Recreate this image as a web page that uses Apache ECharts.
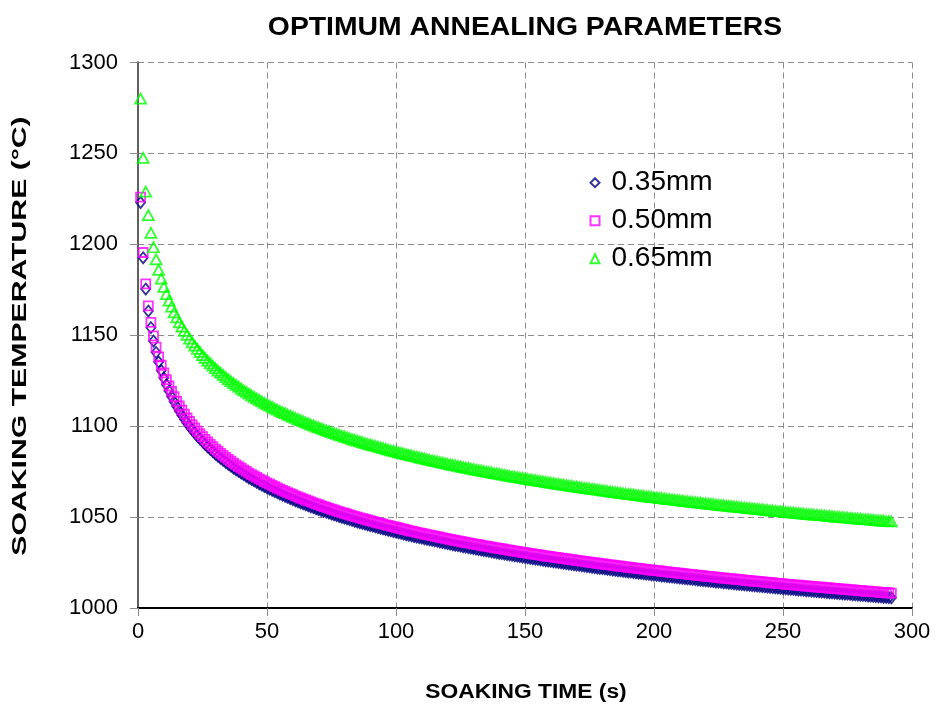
<!DOCTYPE html>
<html>
<head>
<meta charset="utf-8">
<script src="https://cdn.jsdelivr.net/npm/echarts@6/dist/echarts.min.js"></script>
<style>
  html, body { margin: 0; padding: 0; background: #ffffff; }
  #chart { width: 939px; height: 709px; }
</style>
</head>
<body>
<div id="chart"></div>
<script>
// Soaking time (s), one reading per second
const soakTime = [
  1,2,3,4,5,6,7,8,9,10,11,12,13,14,15,16,17,18,19,20,21,22,23,24,25,26,27,28,29,30,
  31,32,33,34,35,36,37,38,39,40,41,42,43,44,45,46,47,48,49,50,51,52,53,54,55,56,57,58,59,60,
  61,62,63,64,65,66,67,68,69,70,71,72,73,74,75,76,77,78,79,80,81,82,83,84,85,86,87,88,89,90,
  91,92,93,94,95,96,97,98,99,100,101,102,103,104,105,106,107,108,109,110,111,112,113,114,115,116,117,118,119,120,
  121,122,123,124,125,126,127,128,129,130,131,132,133,134,135,136,137,138,139,140,141,142,143,144,145,146,147,148,149,150,
  151,152,153,154,155,156,157,158,159,160,161,162,163,164,165,166,167,168,169,170,171,172,173,174,175,176,177,178,179,180,
  181,182,183,184,185,186,187,188,189,190,191,192,193,194,195,196,197,198,199,200,201,202,203,204,205,206,207,208,209,210,
  211,212,213,214,215,216,217,218,219,220,221,222,223,224,225,226,227,228,229,230,231,232,233,234,235,236,237,238,239,240,
  241,242,243,244,245,246,247,248,249,250,251,252,253,254,255,256,257,258,259,260,261,262,263,264,265,266,267,268,269,270,
  271,272,273,274,275,276,277,278,279,280,281,282,283,284,285,286,287,288,289,290,291,292
];

// Soaking temperature (°C) for 0.35 mm strip
const temp035 = [
  1223.0,1192.6,1175.4,1163.3,1154.2,1146.8,1140.6,1135.3,1130.6,1126.5,
  1122.8,1119.4,1116.3,1113.4,1110.8,1108.3,1106.0,1103.8,1101.8,1099.8,
  1098.0,1096.3,1094.6,1093.0,1091.5,1090.0,1088.6,1087.3,1086.0,1084.7,
  1083.5,1082.3,1081.2,1080.1,1079.0,1078.0,1077.0,1076.0,1075.1,1074.2,
  1073.3,1072.4,1071.5,1070.7,1069.9,1069.1,1068.3,1067.6,1066.8,1066.1,
  1065.4,1064.7,1064.0,1063.4,1062.7,1062.1,1061.4,1060.8,1060.2,1059.6,
  1059.0,1058.4,1057.9,1057.3,1056.8,1056.2,1055.7,1055.2,1054.6,1054.1,
  1053.6,1053.2,1052.7,1052.2,1051.7,1051.2,1050.8,1050.3,1049.9,1049.4,
  1049.0,1048.6,1048.2,1047.7,1047.3,1046.9,1046.5,1046.1,1045.7,1045.3,
  1045.0,1044.6,1044.2,1043.8,1043.5,1043.1,1042.7,1042.4,1042.0,1041.7,
  1041.3,1041.0,1040.6,1040.3,1040.0,1039.7,1039.3,1039.0,1038.7,1038.4,
  1038.1,1037.8,1037.5,1037.2,1036.9,1036.6,1036.3,1036.0,1035.7,1035.4,
  1035.1,1034.8,1034.5,1034.3,1034.0,1033.7,1033.5,1033.2,1032.9,1032.7,
  1032.4,1032.1,1031.9,1031.6,1031.4,1031.1,1030.9,1030.6,1030.4,1030.1,
  1029.9,1029.7,1029.4,1029.2,1029.0,1028.7,1028.5,1028.3,1028.0,1027.8,
  1027.6,1027.3,1027.1,1026.9,1026.7,1026.5,1026.2,1026.0,1025.8,1025.6,
  1025.4,1025.2,1025.0,1024.8,1024.6,1024.4,1024.2,1024.0,1023.8,1023.6,
  1023.4,1023.2,1023.0,1022.8,1022.6,1022.4,1022.2,1022.0,1021.8,1021.7,
  1021.5,1021.3,1021.1,1020.9,1020.7,1020.5,1020.4,1020.2,1020.0,1019.8,
  1019.7,1019.5,1019.3,1019.1,1019.0,1018.8,1018.6,1018.5,1018.3,1018.1,
  1017.9,1017.8,1017.6,1017.5,1017.3,1017.1,1017.0,1016.8,1016.7,1016.5,
  1016.3,1016.2,1016.0,1015.9,1015.7,1015.6,1015.4,1015.2,1015.1,1014.9,
  1014.8,1014.6,1014.5,1014.3,1014.2,1014.1,1013.9,1013.8,1013.6,1013.5,
  1013.3,1013.2,1013.0,1012.9,1012.8,1012.6,1012.5,1012.3,1012.2,1012.1,
  1011.9,1011.8,1011.6,1011.5,1011.4,1011.2,1011.1,1011.0,1010.8,1010.7,
  1010.6,1010.4,1010.3,1010.2,1010.0,1009.9,1009.8,1009.7,1009.5,1009.4,
  1009.3,1009.2,1009.0,1008.9,1008.8,1008.7,1008.5,1008.4,1008.3,1008.2,
  1008.1,1007.9,1007.8,1007.7,1007.6,1007.5,1007.3,1007.2,1007.1,1007.0,
  1006.9,1006.8,1006.6,1006.5,1006.4,1006.3,1006.2,1006.1,1005.9,1005.8,
  1005.7,1005.6
];

// Soaking temperature (°C) for 0.50 mm strip
const temp050 = [
  1226.0,1195.5,1178.3,1166.2,1157.1,1149.7,1143.5,1138.1,1133.5,1129.3,
  1125.6,1122.2,1119.1,1116.2,1113.6,1111.1,1108.8,1106.6,1104.5,1102.6,
  1100.7,1099.0,1097.3,1095.7,1094.2,1092.7,1091.3,1090.0,1088.7,1087.4,
  1086.2,1085.0,1083.9,1082.8,1081.7,1080.7,1079.7,1078.7,1077.8,1076.9,
  1076.0,1075.1,1074.2,1073.4,1072.6,1071.8,1071.0,1070.3,1069.5,1068.8,
  1068.1,1067.4,1066.7,1066.0,1065.4,1064.7,1064.1,1063.5,1062.9,1062.3,
  1061.7,1061.1,1060.5,1060.0,1059.4,1058.9,1058.4,1057.8,1057.3,1056.8,
  1056.3,1055.8,1055.3,1054.8,1054.4,1053.9,1053.4,1053.0,1052.5,1052.1,
  1051.7,1051.2,1050.8,1050.4,1050.0,1049.6,1049.2,1048.8,1048.4,1048.0,
  1047.6,1047.2,1046.8,1046.5,1046.1,1045.7,1045.4,1045.0,1044.7,1044.3,
  1044.0,1043.6,1043.3,1043.0,1042.6,1042.3,1042.0,1041.6,1041.3,1041.0,
  1040.7,1040.4,1040.1,1039.8,1039.5,1039.2,1038.9,1038.6,1038.3,1038.0,
  1037.7,1037.4,1037.2,1036.9,1036.6,1036.3,1036.1,1035.8,1035.5,1035.3,
  1035.0,1034.8,1034.5,1034.2,1034.0,1033.7,1033.5,1033.2,1033.0,1032.8,
  1032.5,1032.3,1032.0,1031.8,1031.6,1031.3,1031.1,1030.9,1030.6,1030.4,
  1030.2,1029.9,1029.7,1029.5,1029.3,1029.1,1028.8,1028.6,1028.4,1028.2,
  1028.0,1027.8,1027.6,1027.4,1027.2,1027.0,1026.8,1026.6,1026.4,1026.2,
  1026.0,1025.8,1025.6,1025.4,1025.2,1025.0,1024.8,1024.6,1024.4,1024.2,
  1024.1,1023.9,1023.7,1023.5,1023.3,1023.1,1023.0,1022.8,1022.6,1022.4,
  1022.2,1022.1,1021.9,1021.7,1021.6,1021.4,1021.2,1021.0,1020.9,1020.7,
  1020.5,1020.4,1020.2,1020.0,1019.9,1019.7,1019.6,1019.4,1019.2,1019.1,
  1018.9,1018.8,1018.6,1018.4,1018.3,1018.1,1018.0,1017.8,1017.7,1017.5,
  1017.4,1017.2,1017.1,1016.9,1016.8,1016.6,1016.5,1016.3,1016.2,1016.0,
  1015.9,1015.8,1015.6,1015.5,1015.3,1015.2,1015.0,1014.9,1014.8,1014.6,
  1014.5,1014.4,1014.2,1014.1,1013.9,1013.8,1013.7,1013.5,1013.4,1013.3,
  1013.1,1013.0,1012.9,1012.7,1012.6,1012.5,1012.4,1012.2,1012.1,1012.0,
  1011.9,1011.7,1011.6,1011.5,1011.4,1011.2,1011.1,1011.0,1010.9,1010.7,
  1010.6,1010.5,1010.4,1010.3,1010.1,1010.0,1009.9,1009.8,1009.7,1009.5,
  1009.4,1009.3,1009.2,1009.1,1009.0,1008.9,1008.7,1008.6,1008.5,1008.4,
  1008.3,1008.2
];

// Soaking temperature (°C) for 0.65 mm strip
const temp065 = [
  1280.1,1247.5,1229.0,1216.1,1206.3,1198.4,1191.7,1186.0,1181.1,1176.6,
  1172.6,1169.0,1165.7,1162.6,1159.8,1157.1,1154.7,1152.4,1150.2,1148.1,
  1146.1,1144.3,1142.5,1140.8,1139.1,1137.6,1136.1,1134.6,1133.3,1131.9,
  1130.6,1129.4,1128.2,1127.0,1125.9,1124.8,1123.7,1122.7,1121.7,1120.7,
  1119.7,1118.8,1117.9,1117.0,1116.1,1115.3,1114.4,1113.6,1112.8,1112.1,
  1111.3,1110.6,1109.8,1109.1,1108.4,1107.7,1107.1,1106.4,1105.8,1105.1,
  1104.5,1103.9,1103.3,1102.7,1102.1,1101.5,1100.9,1100.4,1099.8,1099.3,
  1098.8,1098.2,1097.7,1097.2,1096.7,1096.2,1095.7,1095.2,1094.8,1094.3,
  1093.8,1093.4,1092.9,1092.5,1092.0,1091.6,1091.2,1090.7,1090.3,1089.9,
  1089.5,1089.1,1088.7,1088.3,1087.9,1087.5,1087.1,1086.7,1086.4,1086.0,
  1085.6,1085.3,1084.9,1084.6,1084.2,1083.9,1083.5,1083.2,1082.8,1082.5,
  1082.2,1081.8,1081.5,1081.2,1080.9,1080.6,1080.2,1079.9,1079.6,1079.3,
  1079.0,1078.7,1078.4,1078.1,1077.8,1077.5,1077.2,1077.0,1076.7,1076.4,
  1076.1,1075.8,1075.6,1075.3,1075.0,1074.8,1074.5,1074.2,1074.0,1073.7,
  1073.5,1073.2,1072.9,1072.7,1072.4,1072.2,1071.9,1071.7,1071.5,1071.2,
  1071.0,1070.7,1070.5,1070.3,1070.0,1069.8,1069.6,1069.3,1069.1,1068.9,
  1068.7,1068.4,1068.2,1068.0,1067.8,1067.6,1067.3,1067.1,1066.9,1066.7,
  1066.5,1066.3,1066.1,1065.9,1065.7,1065.5,1065.3,1065.1,1064.9,1064.7,
  1064.5,1064.3,1064.1,1063.9,1063.7,1063.5,1063.3,1063.1,1062.9,1062.7,
  1062.6,1062.4,1062.2,1062.0,1061.8,1061.6,1061.4,1061.3,1061.1,1060.9,
  1060.7,1060.5,1060.4,1060.2,1060.0,1059.9,1059.7,1059.5,1059.4,1059.2,
  1059.0,1058.8,1058.7,1058.5,1058.3,1058.2,1058.0,1057.9,1057.7,1057.5,
  1057.4,1057.2,1057.1,1056.9,1056.7,1056.6,1056.4,1056.3,1056.1,1056.0,
  1055.8,1055.7,1055.5,1055.4,1055.2,1055.1,1054.9,1054.8,1054.6,1054.5,
  1054.3,1054.2,1054.0,1053.9,1053.7,1053.6,1053.4,1053.3,1053.2,1053.0,
  1052.9,1052.7,1052.6,1052.5,1052.3,1052.2,1052.0,1051.9,1051.8,1051.6,
  1051.5,1051.4,1051.2,1051.1,1051.0,1050.9,1050.7,1050.6,1050.5,1050.3,
  1050.2,1050.1,1049.9,1049.8,1049.7,1049.6,1049.4,1049.3,1049.2,1049.1,
  1048.9,1048.8,1048.7,1048.6,1048.5,1048.3,1048.2,1048.1,1048.0,1047.8,
  1047.7,1047.6
];

const seriesNames = ['0.35mm', '0.50mm', '0.65mm'];
const seriesTemps = [temp035, temp050, temp065];
const seriesColors = ['#000080', '#FF00FF', '#00FF00'];
const seriesSymbols = ['diamond', 'rect', 'triangle'];
const seriesSymbolSizes = [[9, 11], [9, 9], [11, 10]];

const FONT = '"Liberation Sans", Arial, Helvetica, sans-serif';

const chart = echarts.init(document.getElementById('chart'), null, { renderer: 'canvas' });

const gridLine = { show: true, lineStyle: { color: '#8c8c8c', width: 1, type: [6, 4] } };

const option = {
  backgroundColor: '#ffffff',
  animation: false,
  textStyle: { fontFamily: FONT },
  grid: { left: 138, right: 27, top: 62.5, bottom: 101, containLabel: false },
  graphic: [
    {
      // chart title, spread over the plot width
      type: 'text', x: 525, y: 28, scaleX: 1.09, scaleY: 1,
      style: {
        text: 'OPTIMUM ANNEALING PARAMETERS',
        font: 'bold 26px ' + FONT, fill: '#000', align: 'center', verticalAlign: 'middle'
      }
    },
    {
      // horizontal axis title
      type: 'text', x: 526, y: 692, scaleX: 1.14, scaleY: 1,
      style: {
        text: 'SOAKING TIME (s)',
        font: 'bold 20px ' + FONT, fill: '#000', align: 'center', verticalAlign: 'middle'
      }
    },
    {
      // vertical axis title, reads bottom to top
      type: 'text', x: 20, y: 336, rotation: Math.PI / 2, scaleX: 1.51, scaleY: 1,
      style: {
        text: 'SOAKING TEMPERATURE (°C)',
        font: 'bold 20px ' + FONT, fill: '#000', align: 'center', verticalAlign: 'middle'
      }
    }
  ],
  legend: {
    orient: 'vertical',
    left: 584.5, top: 163.7,
    itemWidth: 9, itemHeight: 9, itemGap: 10,
    textStyle: { fontFamily: FONT, fontSize: 28, color: '#000', lineHeight: 28, padding: [0, 0, 0, 7] },
    data: seriesNames
  },
  xAxis: {
    type: 'value', min: 0, max: 300, interval: 50,
    axisLine: { show: true, onZero: false, lineStyle: { color: '#000', width: 2 } },
    axisTick: { show: true, inside: false, length: 8, lineStyle: { color: '#8c8c8c', width: 1 } },
    axisLabel: { fontFamily: FONT, fontSize: 22, color: '#000', margin: 13 },
    splitLine: gridLine
  },
  yAxis: [
    {
      type: 'value', min: 1000, max: 1300, interval: 50,
      axisLine: { show: true, onZero: false, lineStyle: { color: '#000', width: 2 } },
      axisTick: { show: true, inside: false, length: 8, lineStyle: { color: '#8c8c8c', width: 1 } },
      axisLabel: { fontFamily: FONT, fontSize: 22, color: '#000', margin: 20, formatter: v => String(v) },
      splitLine: gridLine
    },
    {
      type: 'value', min: 1000, max: 1300, interval: 50, position: 'right',
      axisLine: { show: true, lineStyle: { color: '#808080', width: 1.5 } },
      axisTick: { show: false }, axisLabel: { show: false }, splitLine: { show: false }
    }
  ],
  series: seriesNames.map((name, k) => ({
    name: name,
    type: 'scatter',
    yAxisIndex: 0,
    symbol: seriesSymbols[k],
    symbolSize: seriesSymbolSizes[k],
    itemStyle: { color: 'rgba(255,255,255,0)', borderColor: seriesColors[k], borderWidth: 1.8 },
    emphasis: { disabled: true },
    data: soakTime.map((t, i) => [t, seriesTemps[k][i]])
  }))
};

chart.setOption(option);
</script>
</body>
</html>
